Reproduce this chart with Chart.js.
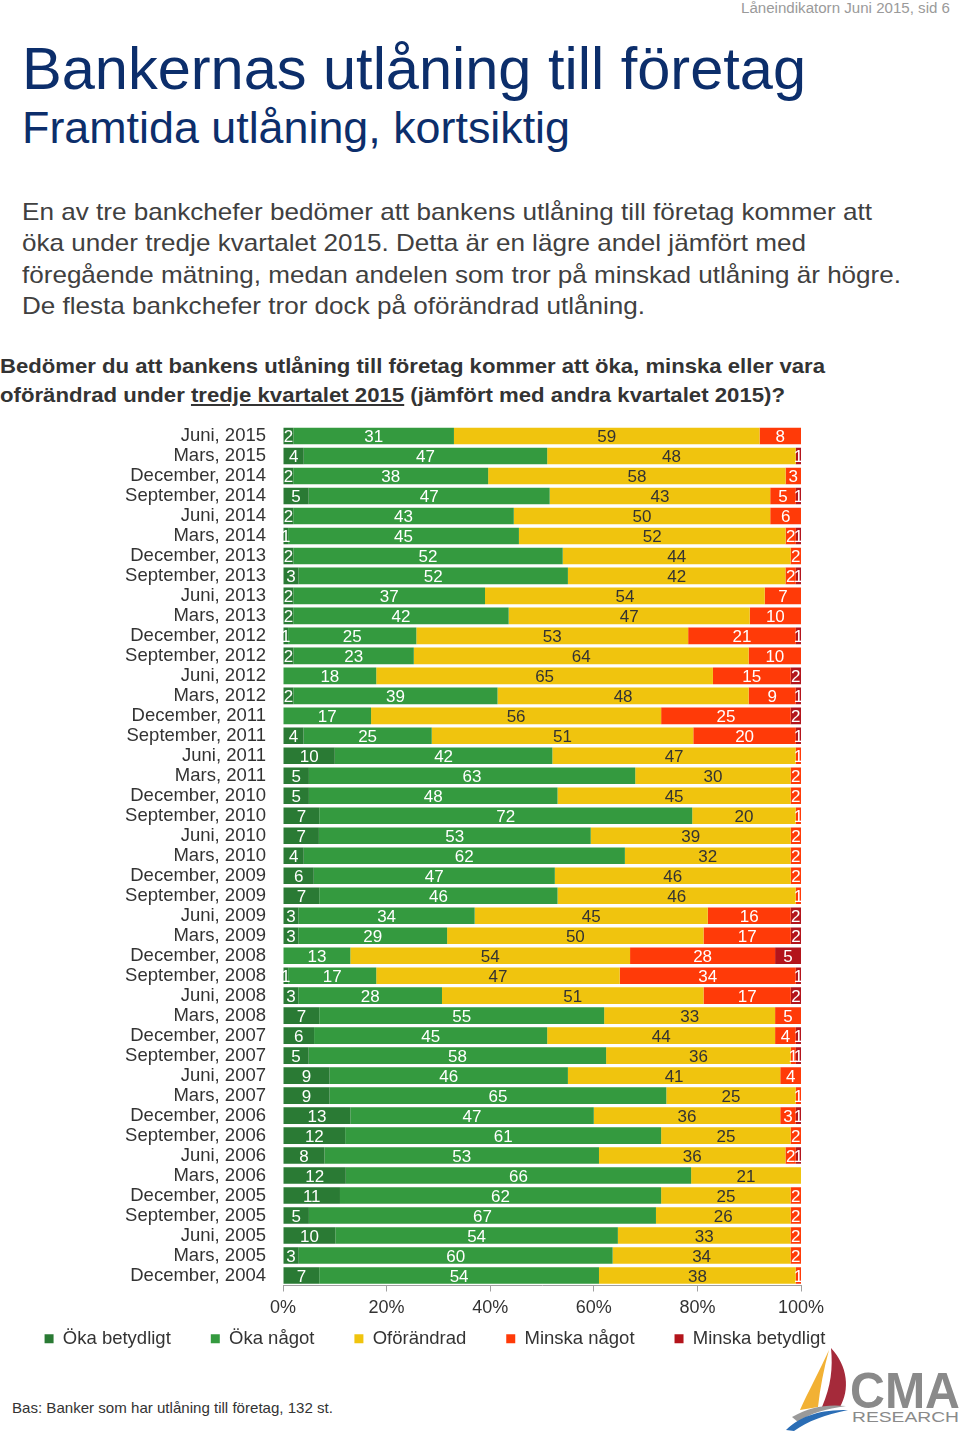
<!DOCTYPE html>
<html><head><meta charset="utf-8">
<script src="https://cdn.jsdelivr.net/npm/chart.js@4.4.1/dist/chart.umd.min.js"></script>
<style>
body{margin:0;width:960px;height:1431px;position:relative;background:#fff;font-family:"Liberation Sans",Arial,sans-serif;overflow:hidden}
.t{position:absolute;white-space:nowrap;line-height:1;transform-origin:0 0}
#chartWrap{position:absolute;left:0;top:396px;width:870px;height:992px}
</style></head><body>
<div class="t fit" data-w="209" style="left:741px;top:1px;font-size:14px;color:#9a9a9a">Låneindikatorn Juni 2015, sid 6</div>
<div class="t fit" data-w="784" style="left:22px;top:39px;font-size:60px;color:#0c2e6b">Bankernas utlåning till företag</div>
<div class="t fit" data-w="548" style="left:22px;top:105px;font-size:45px;color:#0c2e6b">Framtida utlåning, kortsiktig</div>
<div class="t fit" data-w="850" style="left:22px;top:200px;font-size:24px;color:#404040">En av tre bankchefer bedömer att bankens utlåning till företag kommer att</div>
<div class="t fit" data-w="784" style="left:22px;top:231px;font-size:24px;color:#404040">öka under tredje kvartalet 2015. Detta är en lägre andel jämfört med</div>
<div class="t fit" data-w="879" style="left:22px;top:263px;font-size:24px;color:#404040">föregående mätning, medan andelen som tror på minskad utlåning är högre.</div>
<div class="t fit" data-w="623" style="left:22px;top:294px;font-size:24px;color:#404040">De flesta bankchefer tror dock på oförändrad utlåning.</div>
<div class="t fit" data-w="825" style="left:0px;top:355px;font-size:21px;font-weight:bold;color:#333">Bedömer du att bankens utlåning till företag kommer att öka, minska eller vara</div>
<div class="t fit" data-w="785" style="left:0px;top:384px;font-size:21px;font-weight:bold;color:#333">oförändrad under <span style="text-decoration:underline">tredje kvartalet 2015</span> (jämfört med andra kvartalet 2015)?</div>
<div class="t fit" data-w="321" style="left:12px;top:1401px;font-size:14.5px;color:#333">Bas: Banker som har utlåning till företag, 132 st.</div>

<svg style="position:absolute;left:780px;top:1340px" width="180" height="91" viewBox="0 0 180 91">
  <path d="M49,10 C40,30 28,52 20,70 L38,67 C40,48 44,28 49,10 Z" fill="#f2b134"/>
  <path d="M51,8 C68,26 70,50 60,67 L42,67 C51,46 53,28 51,8 Z" fill="#a52a3a"/>
  <path d="M12,77 C30,67 46,64 66,66 C46,69 30,73 18,82 Z" fill="#9a9a9a"/>
  <path d="M6,90 C22,75 40,70 68,70 C44,75 28,81 14,91 Z" fill="#2a6db5"/>
  <text x="70" y="68" font-family="Liberation Sans, Arial, sans-serif" font-size="50" font-weight="bold" fill="#8a8a8a" textLength="110" lengthAdjust="spacingAndGlyphs">CMA</text>
  <text x="72" y="82" font-family="Liberation Sans, Arial, sans-serif" font-size="15" fill="#8a8a8a" textLength="107" lengthAdjust="spacingAndGlyphs">RESEARCH</text>
</svg>

<div id="chartWrap"><canvas id="c" width="870" height="992"></canvas></div>

<script>
const categories = ["Juni, 2015","Mars, 2015","December, 2014","September, 2014","Juni, 2014","Mars, 2014","December, 2013","September, 2013","Juni, 2013","Mars, 2013","December, 2012","September, 2012","Juni, 2012","Mars, 2012","December, 2011","September, 2011","Juni, 2011","Mars, 2011","December, 2010","September, 2010","Juni, 2010","Mars, 2010","December, 2009","September, 2009","Juni, 2009","Mars, 2009","December, 2008","September, 2008","Juni, 2008","Mars, 2008","December, 2007","September, 2007","Juni, 2007","Mars, 2007","December, 2006","September, 2006","Juni, 2006","Mars, 2006","December, 2005","September, 2005","Juni, 2005","Mars, 2005","December, 2004"];
const okaBetydligt    = [2,4,2,5,2,1,2,3,2,2,1,2,0,2,0,4,10,5,5,7,7,4,6,7,3,3,0,1,3,7,6,5,9,9,13,12,8,12,11,5,10,3,7];
const okaNagot        = [31,47,38,47,43,45,52,52,37,42,25,23,18,39,17,25,42,63,48,72,53,62,47,46,34,29,13,17,28,55,45,58,46,65,47,61,53,66,62,67,54,60,54];
const oforandrad      = [59,48,58,43,50,52,44,42,54,47,53,64,65,48,56,51,47,30,45,20,39,32,46,46,45,50,54,47,51,33,44,36,41,25,36,25,36,21,25,26,33,34,38];
const minskaNagot     = [8,0,3,5,6,2,2,2,7,10,21,10,15,9,25,20,1,2,2,1,2,2,2,1,16,17,28,34,17,5,4,1,4,1,3,2,2,0,2,2,2,2,1];
const minskaBetydligt = [0,1,0,1,0,1,0,1,0,0,1,0,2,1,2,1,0,0,0,0,0,0,0,0,2,2,5,1,2,0,1,1,0,0,1,0,1,0,0,0,0,0,0];
const seriesNames = ["Öka betydligt","Öka något","Oförändrad","Minska något","Minska betydligt"];
const xTickLabels = ["0%","20%","40%","60%","80%","100%"];

// styles
const seriesColors = ["#2a7a34","#349a3f","#f0c40e","#ff3a08","#b3141b"];
const labelColors = ["#ffffff","#ffffff","#333333","#ffffff","#ffffff"];
const FONT = '"Liberation Sans", Arial, sans-serif';

const seriesValues = [okaBetydligt, okaNagot, oforandrad, minskaNagot, minskaBetydligt];
const totals = categories.map((_, i) => seriesValues.reduce((a, s) => a + s[i], 0));

const datasets = seriesValues.map((vals, s) => ({
  label: seriesNames[s],
  data: vals.map((v, i) => v / totals[i] * 100),
  raw: vals,
  backgroundColor: seriesColors[s],
  borderWidth: 0,
  barPercentage: 0.83,
  categoryPercentage: 1
}));

const valueLabels = {
  id: 'valueLabels',
  afterDatasetsDraw(chart) {
    const ctx = chart.ctx;
    ctx.save();
    ctx.font = '17px ' + FONT;
    ctx.textAlign = 'center';
    ctx.textBaseline = 'middle';
    chart.data.datasets.forEach((ds, di) => {
      const meta = chart.getDatasetMeta(di);
      meta.data.forEach((el, i) => {
        const v = ds.raw[i];
        if (!v) return;
        ctx.fillStyle = labelColors[di];
        ctx.fillText(String(v), (el.x + el.base) / 2, el.y + 1.5);
      });
    });
    ctx.restore();
  }
};

// keep the wide horizontal legend spacing while sitting the legend close under the axis labels
const legendPlace = {
  id: 'legendPlace',
  afterLayout(chart) {
    const l = chart.legend;
    if (!l) return;
    const top = chart.chartArea.bottom + 4;
    l.top = top;
    l.bottom = top + l.height;
  }
};

new Chart(document.getElementById('c'), {
  type: 'bar',
  data: { labels: categories, datasets },
  options: {
    indexAxis: 'y',
    responsive: false,
    animation: false,
    devicePixelRatio: 1,
    layout: { padding: { top: 30, left: 0, right: 0, bottom: 0 } },
    plugins: {
      tooltip: { enabled: false },
      legend: {
        position: 'bottom',
        align: 'center',
        labels: { boxWidth: 9, boxHeight: 9, padding: 40, color: '#333', font: { size: 18.5, family: FONT } }
      }
    },
    scales: {
      x: {
        stacked: true, min: 0, max: 100,
        ticks: { stepSize: 20, callback: (v) => xTickLabels[Math.round(v / 20)], font: { size: 18, family: FONT }, color: '#333', padding: 6, maxRotation: 0 },
        grid: { display: true, drawOnChartArea: false, drawTicks: true, tickLength: 6, color: '#a0a0a0' },
        border: { display: true, color: '#a0a0a0' },
        afterFit(s) { s.height = 34; }
      },
      y: {
        stacked: true,
        ticks: { font: { size: 18.5, family: FONT }, color: '#333', padding: 17, autoSkip: false },
        grid: { display: false, drawTicks: false },
        border: { display: false },
        afterFit(s) { s.width = 283; }
      },
      yRight: {
        type: 'linear', position: 'right', display: true,
        ticks: { display: false },
        grid: { display: false, drawTicks: false },
        border: { display: false },
        afterFit(s) { s.width = 69; }
      }
    }
  },
  plugins: [valueLabels, legendPlace]
});

document.querySelectorAll('.fit').forEach(el => {
  const w = el.getBoundingClientRect().width;
  const target = +el.dataset.w;
  if (w > 0) el.style.transform = 'scaleX(' + (target / w) + ')';
});
</script>
</body></html>
